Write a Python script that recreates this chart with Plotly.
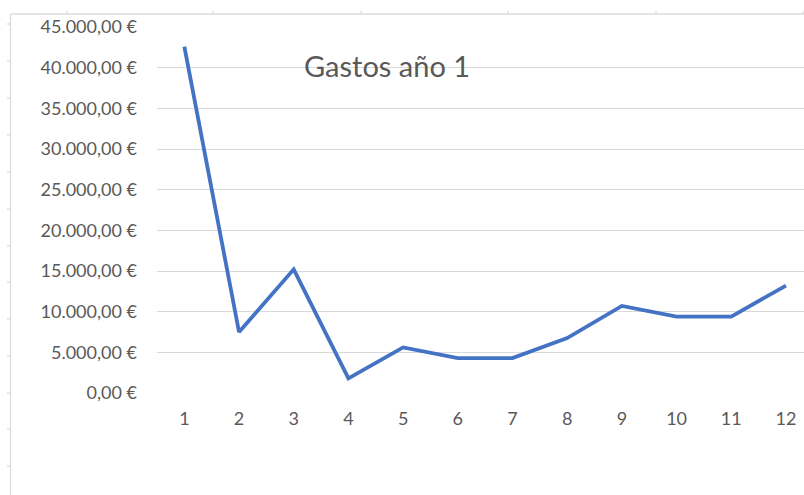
import plotly.graph_objects as go

months = ["1", "2", "3", "4", "5", "6", "7", "8", "9", "10", "11", "12"]
gastos = [42600, 7500, 15200, 1800, 5600, 4300, 4300, 6750, 10700, 9400, 9400, 13200]
y_ticks = [0, 5000, 10000, 15000, 20000, 25000, 30000, 35000, 40000, 45000]
title_text = "Gastos año 1"


def euro(v):
    s = f"{v:,.2f}".replace(",", "X").replace(".", ",").replace("X", ".")
    return s + "\u00a0€"


y_ticktext = [euro(v) for v in y_ticks]

FONT = "Lato, 'Open Sans', sans-serif"
TXT = "#595959"
GRID = "#d9d9d9"
W, H = 804, 495

fig = go.Figure()
fig.add_trace(go.Scatter(
    x=list(range(1, 13)), y=gastos, mode="lines",
    line=dict(color="#4472C4", width=3.8),
    hoverinfo="skip", showlegend=False,
))


def px_line(x0, y0, x1, y1):
    # decorative spreadsheet frame, given in pixels, mapped to paper coords
    return dict(type="line", xref="paper", yref="paper",
                x0=(x0 - 157) / (W - 157), x1=(x1 - 157) / (W - 157),
                y0=(393 - y0) / (393 - 27), y1=(393 - y1) / (393 - 27),
                line=dict(color="#dcdcdc", width=1.3), layer="below")


shapes = [px_line(10.5, 14, 10.5, 495), px_line(10.5, 14, 804, 14)]
for ty in [24, 61, 98, 135, 172, 209, 246, 282, 319, 356, 393, 429, 466]:
    shapes.append(px_line(7, ty, 10.5, ty))
for tx in [67, 213, 361, 508, 656, 803]:
    shapes.append(px_line(tx, 11, tx, 14))

fig.update_layout(
    width=W, height=H,
    margin=dict(l=157, r=0, t=27, b=102),
    paper_bgcolor="white", plot_bgcolor="white",
    font=dict(family=FONT, color=TXT, size=18),
    shapes=shapes,
    xaxis=dict(
        range=[0.5, 12.33], tickmode="array", tickvals=list(range(1, 13)), ticktext=months,
        showgrid=False, zeroline=False, showline=False, ticks="",
        tickfont=dict(size=18, color=TXT), ticklabelstandoff=13,
    ),
    yaxis=dict(
        range=[0, 45000], tickmode="array", tickvals=y_ticks, ticktext=y_ticktext,
        showgrid=True, gridcolor=GRID, gridwidth=1.2,
        zeroline=False, showline=False, ticks="",
        tickfont=dict(size=18, color=TXT), ticklabelstandoff=19,
    ),
    annotations=[dict(
        text=title_text, xref="paper", yref="paper",
        x=(386.5 - 157) / (W - 157), y=(393 - 65) / (393 - 27),
        showarrow=False, font=dict(size=29, color=TXT, family=FONT),
        xanchor="center", yanchor="middle",
    )],
)

fig.write_html("out.html")
